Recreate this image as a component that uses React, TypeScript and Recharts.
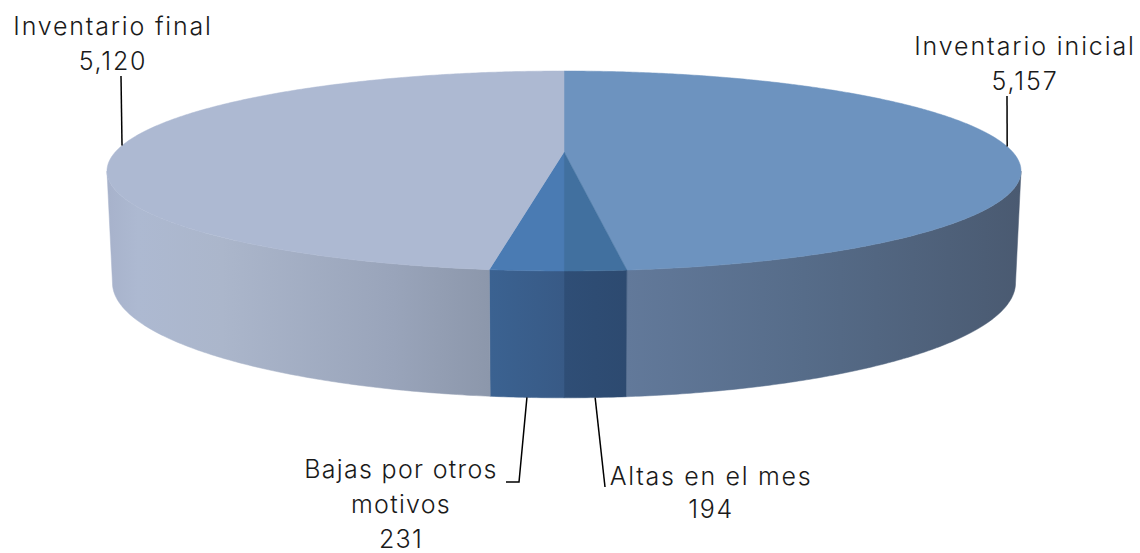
import React from 'react';
import { PieChart, Pie, Cell } from 'recharts';

const names = ['Inventario inicial', 'Altas en el mes', 'Bajas por otros motivos', 'Inventario final'];
const values = [5157, 194, 231, 5120];
const topColors = ['#6d93bf', '#41709f', '#4a7bb3', '#adb9d2'];

const rows = names.map((name, i) => ({ name, value: values[i] }));

// perspective of the disc: the far edge is shorter than the near edge
const TILT = 0.19;
const CX = 564;
const TOP_CY = 152;
const TOP_R = 448.7;
const TOP_SQUASH = 0.2148;
const BOTTOM_CY = 261;
const BOTTOM_R = 443.3;
const BOTTOM_SQUASH = 0.25;
const FRONT_FROM = 101;
const FRONT_TO = 259;

const project = (deg: number, cy: number, r: number, squash: number) => {
    const a = (deg * Math.PI) / 180;
    const w = 1 + TILT * Math.cos(a);
    return [CX + (r * Math.sin(a)) / w, cy - (r * squash * Math.cos(a)) / w];
};

const arc = (from: number, to: number, cy: number, r: number, squash: number) => {
    const pts: number[][] = [];
    const steps = Math.max(2, Math.ceil(Math.abs(to - from) * 2));
    for (let i = 0; i <= steps; i++) {
        pts.push(project(from + ((to - from) * i) / steps, cy, r, squash));
    }
    return pts;
};

const toPath = (pts: number[][]) =>
    'M' + pts.map((p) => `${p[0].toFixed(2)},${p[1].toFixed(2)}`).join('L') + 'Z';

const TopSlice = (props: any) => {
    const from = 90 - props.startAngle;
    const to = 90 - props.endAngle;
    const pts = [[CX, TOP_CY], ...arc(from, to, TOP_CY, TOP_R, TOP_SQUASH)];
    return <path d={toPath(pts)} fill={props.fill} stroke={props.fill} strokeWidth={0.5} />;
};

const WallSlice = (props: any) => {
    const from = Math.max(90 - props.startAngle, FRONT_FROM);
    const to = Math.min(90 - props.endAngle, FRONT_TO);
    if (to <= from) return null;
    const pts = [
        ...arc(from, to, TOP_CY, TOP_R, TOP_SQUASH),
        ...arc(to, from, BOTTOM_CY, BOTTOM_R, BOTTOM_SQUASH),
    ];
    return <path d={toPath(pts)} fill={props.fill} stroke={props.fill} strokeWidth={0.5} />;
};

const FONT = 'Inter, sans-serif';
const FONT_SIZE = 25;

// where each label sits, and the elbow of its leader line
const labelLayout: any[] = [
    { x: 1025, y: [55, 90], spacing: 1.9, lines: ['Inventario inicial'], leader: [[1007, 96]], onTop: true },
    { x: 711, y: [485, 518], spacing: 1.7, lines: ['Altas en el mes'], leader: [[605, 487]], onTop: false },
    { x: 401, y: [478, 513, 548], spacing: 1.3, lines: ['Bajas por otros', 'motivos'], leader: [[519, 482], [506, 482]], onTop: false },
    { x: 113, y: [35, 70], spacing: 1.8, lines: ['Inventario final'], leader: [[121, 76]], onTop: true },
];

const renderLabel = (props: any) => {
    const layout = labelLayout[props.index];
    const mid = 90 - props.midAngle;
    const start = layout.onTop
        ? project(mid, TOP_CY, TOP_R, TOP_SQUASH)
        : project(mid, BOTTOM_CY, BOTTOM_R, BOTTOM_SQUASH);
    const text = [...layout.lines, values[props.index].toLocaleString('en-US')];
    return (
        <g key={props.index}>
            <polyline
                points={[start, ...layout.leader].map((p: number[]) => p.join(',')).join(' ')}
                fill="none"
                stroke="#000"
                strokeWidth={1.5}
            />
            {text.map((t: string, i: number) => (
                <text
                    key={i}
                    x={layout.x}
                    y={layout.y[i]}
                    textAnchor="middle"
                    fill="#1a1a1a"
                    fontFamily={FONT}
                    fontWeight={300}
                    fontSize={FONT_SIZE}
                    letterSpacing={layout.spacing}
                >
                    {t}
                </text>
            ))}
        </g>
    );
};

export default function App() {
    return (
        <div style={{ position: 'absolute', left: 0, top: 0, width: 1140, height: 553, background: '#fff' }}>
            <PieChart width={1140} height={553} margin={{ top: 0, right: 0, bottom: 0, left: 0 }}>
                <defs>
                    <linearGradient id="wall0" gradientUnits="userSpaceOnUse" x1={627} y1={0} x2={1021} y2={0}>
                        <stop offset="0" stopColor="#62799a" />
                        <stop offset="0.45" stopColor="#566c89" />
                        <stop offset="1" stopColor="#4a5a71" />
                    </linearGradient>
                    <linearGradient id="wall1" gradientUnits="userSpaceOnUse" x1={564} y1={0} x2={627} y2={0}>
                        <stop offset="0" stopColor="#2f4e76" />
                        <stop offset="1" stopColor="#2d4a70" />
                    </linearGradient>
                    <linearGradient id="wall2" gradientUnits="userSpaceOnUse" x1={490} y1={0} x2={564} y2={0}>
                        <stop offset="0" stopColor="#3b6291" />
                        <stop offset="1" stopColor="#385a86" />
                    </linearGradient>
                    <linearGradient id="wall3" gradientUnits="userSpaceOnUse" x1={107} y1={0} x2={490} y2={0}>
                        <stop offset="0" stopColor="#a7b2cb" />
                        <stop offset="0.08" stopColor="#adb9d1" />
                        <stop offset="0.3" stopColor="#abb6cb" />
                        <stop offset="0.75" stopColor="#99a4ba" />
                        <stop offset="1" stopColor="#8c97ab" />
                    </linearGradient>
                </defs>
                <Pie
                    data={rows}
                    dataKey="value"
                    nameKey="name"
                    cx={CX}
                    cy={BOTTOM_CY}
                    outerRadius={BOTTOM_R}
                    startAngle={90}
                    endAngle={-270}
                    stroke="none"
                    shape={WallSlice}
                    isAnimationActive={false}
                >
                    {rows.map((_, i) => (
                        <Cell key={i} fill={`url(#wall${i})`} />
                    ))}
                </Pie>
                <Pie
                    data={rows}
                    dataKey="value"
                    nameKey="name"
                    cx={CX}
                    cy={TOP_CY}
                    outerRadius={TOP_R}
                    startAngle={90}
                    endAngle={-270}
                    stroke="none"
                    shape={TopSlice}
                    label={renderLabel}
                    labelLine={false}
                    isAnimationActive={false}
                >
                    {rows.map((_, i) => (
                        <Cell key={i} fill={topColors[i]} />
                    ))}
                </Pie>
            </PieChart>
        </div>
    );
}
